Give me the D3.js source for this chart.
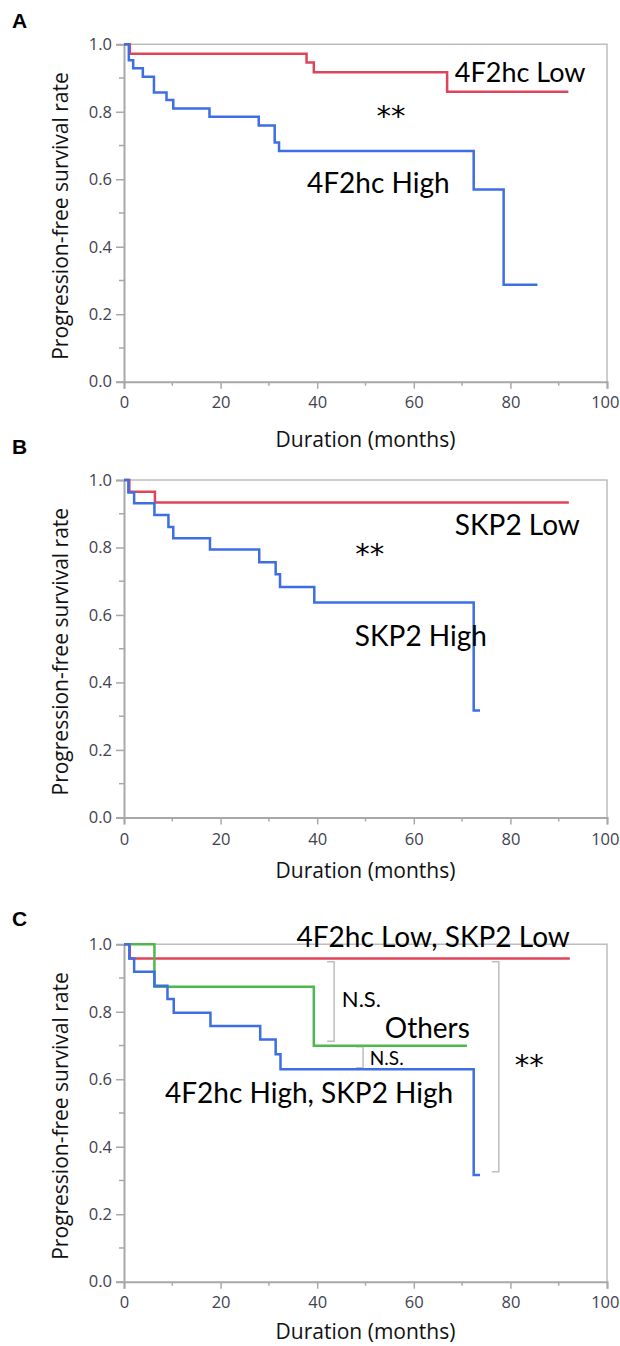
<!DOCTYPE html>
<html>
<head>
<meta charset="utf-8">
<script src="https://cdnjs.cloudflare.com/ajax/libs/d3/7.8.5/d3.min.js"></script>
<style>
  body { margin: 0; background: #fff; }
  svg { display: block; }
</style>
</head>
<body>
<div id="chart"></div>
<script>
'use strict';

// Kaplan-Meier step data (months, progression-free survival rate)
var aLowTimes  = [0, 1.2, 37.8, 39.3, 66.9, 92.0];
var aLowSurv   = [1, 0.972, 0.946, 0.917, 0.859, 0.859];
var aHighTimes = [0, 1.0, 1.9, 3.9, 6.2, 8.8, 10.2, 17.7, 27.9, 31.2, 32.1, 72.4, 78.6, 85.6];
var aHighSurv  = [1, 0.953, 0.929, 0.904, 0.857, 0.835, 0.810, 0.785, 0.759, 0.709, 0.684, 0.570, 0.287, 0.287];

var bLowTimes  = [0, 1.1, 6.4, 92.1];
var bLowSurv   = [1, 0.965, 0.933, 0.933];
var bHighTimes = [0, 0.9, 2.1, 6.3, 9.2, 10.2, 17.8, 28.0, 31.4, 32.3, 39.4, 72.4, 73.7];
var bHighSurv  = [1, 0.963, 0.931, 0.896, 0.861, 0.827, 0.794, 0.756, 0.721, 0.683, 0.637, 0.317, 0.317];

var cLowTimes    = [0, 1.2, 92.3];
var cLowSurv     = [1, 0.958, 0.958];
var cOtherTimes  = [0, 6.3, 39.3, 71.0];
var cOtherSurv   = [1, 0.874, 0.699, 0.699];
var cHighTimes   = [0, 1.1, 2.1, 6.3, 9.0, 10.3, 17.9, 28.2, 31.4, 32.4, 72.4, 73.7];
var cHighSurv    = [1, 0.958, 0.919, 0.877, 0.838, 0.797, 0.758, 0.718, 0.674, 0.630, 0.316, 0.316];

var xTicks = [0, 20, 40, 60, 80, 100];
var yTicks = [0, 0.2, 0.4, 0.6, 0.8, 1.0];

var red = '#e0445a';
var blue = '#3d6ee3';
var green = '#4db84d';

function zip(t, s) {
  return t.map(function (d, i) { return [d, s[i]]; });
}

var width = 620, height = 1346;
var svg = d3.select('#chart').append('svg')
  .attr('width', width)
  .attr('height', height);

var panels = [
  {
    letter: 'A', letterY: 28, top: 44.3, tickY: 20, titleY: 65,
    series: [
      { data: zip(aLowTimes, aLowSurv), color: red },
      { data: zip(aHighTimes, aHighSurv), color: blue }
    ],
    labels: [
      { text: '4F2hc Low', x: 68.5, y: 0.889, size: 27 },
      { text: '**', x: 55.3, y: 0.758, size: 29, anchor: 'middle', star: true },
      { text: '4F2hc High', x: 37.9, y: 0.559, size: 28 }
    ],
    brackets: []
  },
  {
    letter: 'B', letterY: 454, top: 480, tickY: 21.5, titleY: 61,
    series: [
      { data: zip(bLowTimes, bLowSurv), color: red },
      { data: zip(bHighTimes, bHighSurv), color: blue }
    ],
    labels: [
      { text: 'SKP2 Low', x: 68.5, y: 0.837, size: 28 },
      { text: '**', x: 50.9, y: 0.752, size: 29, anchor: 'middle', star: true },
      { text: 'SKP2 High', x: 47.8, y: 0.507, size: 28 }
    ],
    brackets: []
  },
  {
    letter: 'C', letterY: 926, top: 944.3, tickY: 20, titleY: 57,
    series: [
      { data: zip(cLowTimes, cLowSurv), color: red },
      { data: zip(cOtherTimes, cOtherSurv), color: green },
      { data: zip(cHighTimes, cHighSurv), color: blue }
    ],
    labels: [
      { text: '4F2hc Low, SKP2 Low', x: 92.3, y: 0.993, size: 28, anchor: 'end' },
      { text: 'Others', x: 54.0, y: 0.722, size: 28 },
      { text: 'N.S.', x: 45.1, y: 0.815, size: 22 },
      { text: 'N.S.', x: 50.9, y: 0.642, size: 19 },
      { text: '**', x: 83.9, y: 0.613, size: 29, anchor: 'middle', star: true },
      { text: '4F2hc High, SKP2 High', x: 8.5, y: 0.529, size: 28 }
    ],
    brackets: [
      { x: 43.5, y1: 0.948, y2: 0.713 },
      { x: 49.5, y1: 0.696, y2: 0.634 },
      { x: 77.6, y1: 0.948, y2: 0.326 }
    ]
  }
];

var plotLeft = 124, plotRight = 607, plotH = 337.4;

panels.forEach(function (p) {
  var g = svg.append('g');
  var x = d3.scaleLinear().domain([0, 100]).range([plotLeft, plotRight]);
  var y = d3.scaleLinear().domain([0, 1]).range([p.top + plotH, p.top]);
  var bottom = p.top + plotH;

  g.append('text')
    .text(p.letter)
    .attr('x', 12)
    .attr('y', p.letterY)
    .attr('font-family', 'Liberation Sans, Arial, sans-serif')
    .attr('font-weight', 'bold')
    .attr('font-size', 21)
    .attr('fill', '#000');

  // frame (top and right)
  g.append('path')
    .attr('d', 'M' + plotLeft + ',' + p.top + 'H' + plotRight + 'V' + bottom)
    .attr('fill', 'none')
    .attr('stroke', '#bdbdbd')
    .attr('stroke-width', 1.5);

  // minor ticks
  var minorX = d3.range(10, 100, 20);
  var minorY = d3.range(0.1, 1, 0.2);
  g.selectAll('.mx').data(minorX).enter().append('line')
    .attr('x1', function (d) { return x(d); })
    .attr('x2', function (d) { return x(d); })
    .attr('y1', bottom).attr('y2', bottom + 4)
    .attr('stroke', '#a8a8a8').attr('stroke-width', 1.5);
  g.selectAll('.my').data(minorY).enter().append('line')
    .attr('y1', function (d) { return y(d); })
    .attr('y2', function (d) { return y(d); })
    .attr('x1', plotLeft).attr('x2', plotLeft - 5)
    .attr('stroke', '#a8a8a8').attr('stroke-width', 1.5);

  var xAxis = g.append('g')
    .attr('transform', 'translate(0,' + bottom + ')')
    .call(d3.axisBottom(x).tickValues(xTicks).tickSize(7).tickPadding(4).tickFormat(d3.format('d')));
  var yAxis = g.append('g')
    .attr('transform', 'translate(' + plotLeft + ',0)')
    .call(d3.axisLeft(y).tickValues(yTicks).tickSize(8).tickPadding(4).tickFormat(d3.format('.1f')));

  [xAxis, yAxis].forEach(function (ax) {
    ax.select('.domain').attr('stroke', '#a8a8a8').attr('stroke-width', 2);
    ax.selectAll('.tick line').attr('stroke', '#a8a8a8').attr('stroke-width', 1.5);
    ax.selectAll('.tick text')
      .attr('font-family', 'Open Sans, sans-serif')
      .attr('font-size', 16.5)
      .attr('fill', '#3f4250');
  });
  xAxis.selectAll('.tick text').attr('dy', null).attr('y', p.tickY + 6);
  // last label sits at the picture edge: keep it inside
  xAxis.selectAll('.tick text')
    .filter(function (d) { return d === 100; })
    .attr('text-anchor', 'end')
    .attr('x', 12);

  g.append('text')
    .text('Duration (months)')
    .attr('x', (plotLeft + plotRight) / 2)
    .attr('y', bottom + p.titleY)
    .attr('text-anchor', 'middle')
    .attr('font-family', 'Open Sans, sans-serif')
    .attr('font-size', 21)
    .attr('fill', '#111');

  g.append('text')
    .text('Progression-free survival rate')
    .attr('transform', 'translate(68,' + (p.top + plotH / 2 + 3) + ') rotate(-90)')
    .attr('text-anchor', 'middle')
    .attr('font-family', 'Open Sans, sans-serif')
    .attr('font-size', 21)
    .attr('fill', '#111');

  // significance brackets
  p.brackets.forEach(function (b) {
    g.append('path')
      .attr('d', 'M' + (x(b.x) - 7) + ',' + y(b.y1) + 'H' + x(b.x) + 'V' + y(b.y2) + 'H' + (x(b.x) - 7))
      .attr('fill', 'none')
      .attr('stroke', '#bdbdbd')
      .attr('stroke-width', 1.5);
  });

  var line = d3.line()
    .x(function (d) { return x(d[0]); })
    .y(function (d) { return y(d[1]); })
    .curve(d3.curveStepAfter);

  p.series.forEach(function (s) {
    g.append('path')
      .datum(s.data)
      .attr('d', line)
      .attr('fill', 'none')
      .attr('stroke', s.color)
      .attr('stroke-width', 2.5);
  });

  p.labels.forEach(function (l) {
    g.append('text')
      .text(l.text)
      .attr('x', x(l.x))
      .attr('y', y(l.y))
      .attr('text-anchor', l.anchor || 'start')
      .attr('font-family', l.star ? 'DejaVu Sans, sans-serif' : 'Lato, sans-serif')
      .attr('font-size', l.size)
      .attr('fill', '#000');
  });
});
</script>
</body>
</html>
